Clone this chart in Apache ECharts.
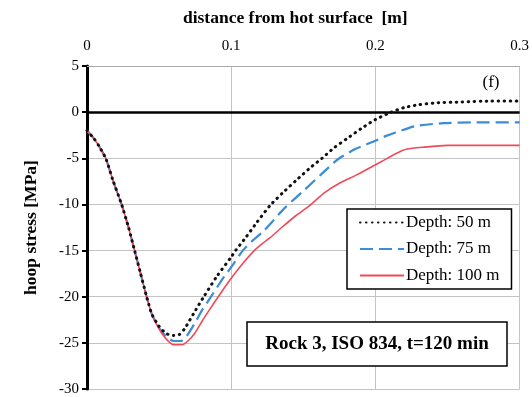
<!DOCTYPE html>
<html>
<head>
<meta charset="utf-8">
<script src="https://cdn.jsdelivr.net/npm/echarts@6/dist/echarts.min.js"></script>
<style>
  html, body { margin: 0; padding: 0; background: #fff; }
  #chart { width: 532px; height: 397px; }
</style>
</head>
<body>
<div id="chart"></div>
<script>
// distance from hot surface [m] and hoop stress [MPa]
const xTicks = [0, 0.1, 0.2, 0.3];
const yTicks = [-30, -25, -20, -15, -10, -5, 0, 5];

const dist50 = [0, 0.005, 0.008, 0.013, 0.018, 0.024, 0.029, 0.033, 0.037, 0.041, 0.045, 0.050, 0.055, 0.060, 0.064, 0.068, 0.074, 0.081, 0.090, 0.100, 0.103, 0.110, 0.118, 0.127, 0.136, 0.145, 0.155, 0.163, 0.171, 0.180, 0.190, 0.200, 0.211, 0.220, 0.230, 0.242, 0.260, 0.280, 0.300];
const stress50 = [-2.0, -2.9, -3.6, -5.0, -7.4, -10.0, -12.6, -15.0, -17.4, -19.8, -21.9, -23.2, -24.0, -24.2, -24.1, -23.4, -21.8, -20.0, -17.8, -15.7, -15.0, -13.6, -11.9, -10.1, -8.7, -7.4, -6.0, -5.0, -3.9, -2.9, -1.8, -0.8, 0.0, 0.5, 0.8, 1.0, 1.1, 1.2, 1.2];

const dist75 = [0, 0.005, 0.008, 0.013, 0.018, 0.024, 0.029, 0.033, 0.037, 0.041, 0.045, 0.050, 0.055, 0.060, 0.065, 0.069, 0.075, 0.080, 0.086, 0.093, 0.100, 0.108, 0.115, 0.123, 0.137, 0.151, 0.162, 0.171, 0.175, 0.186, 0.200, 0.207, 0.214, 0.228, 0.247, 0.270, 0.300];
const stress75 = [-2.0, -2.9, -3.6, -5.0, -7.4, -10.0, -12.6, -15.0, -17.4, -19.8, -21.9, -23.4, -24.3, -24.8, -24.8, -24.3, -22.8, -21.4, -20.0, -18.3, -16.8, -15.0, -13.9, -12.8, -10.4, -8.4, -6.8, -5.5, -5.0, -4.0, -3.1, -2.6, -2.2, -1.5, -1.2, -1.1, -1.1];

const dist100 = [0, 0.005, 0.008, 0.013, 0.018, 0.024, 0.029, 0.033, 0.037, 0.041, 0.045, 0.050, 0.055, 0.060, 0.066, 0.070, 0.075, 0.080, 0.085, 0.091, 0.100, 0.108, 0.116, 0.122, 0.127, 0.135, 0.145, 0.153, 0.165, 0.175, 0.187, 0.200, 0.206, 0.214, 0.222, 0.233, 0.250, 0.300];
const stress100 = [-2.0, -2.9, -3.6, -5.0, -7.4, -10.0, -12.6, -15.0, -17.4, -19.8, -21.9, -23.5, -24.6, -25.2, -25.2, -24.8, -23.9, -22.6, -21.4, -20.0, -18.0, -16.4, -15.0, -14.2, -13.6, -12.5, -11.2, -10.3, -8.7, -7.7, -6.8, -5.7, -5.2, -4.5, -4.0, -3.8, -3.6, -3.6];

const seriesNames = ["Depth: 50 m", "Depth: 75 m", "Depth: 100 m"];

const zip = (xs, ys) => xs.map((x, i) => [x, ys[i]]);

const serif = "'Liberation Serif', 'DejaVu Serif', serif";

const chart = echarts.init(document.getElementById("chart"));

chart.setOption({
  backgroundColor: "#fff",
  animation: false,
  grid: { left: 87, right: 7, top: 66, bottom: 8 },
  xAxis: {
    type: "value",
    position: "top",
    min: 0,
    max: 0.3,
    interval: 0.1,
    name: "distance from hot surface  [m]",
    nameLocation: "middle",
    nameGap: 39,
    nameTextStyle: { fontFamily: serif, fontWeight: "bold", fontSize: 17.5, color: "#000", padding: [0, 16, 0, 0] },
    axisLine: { show: true, onZero: false, lineStyle: { color: "#aaa", width: 1 } },
    axisTick: { show: false },
    axisLabel: { fontFamily: serif, fontSize: 15, color: "#000", margin: 12,
      formatter: (v) => (xTicks.includes(Math.round(v * 10) / 10) ? String(Math.round(v * 10) / 10) : "") },
    splitLine: { show: true, lineStyle: { color: "#c4c4c4", width: 1 } }
  },
  yAxis: {
    type: "value",
    min: -30,
    max: 5,
    interval: 5,
    name: "hoop stress [MPa]",
    nameLocation: "middle",
    nameGap: 47,
    nameTextStyle: { fontFamily: serif, fontWeight: "bold", fontSize: 17.5, color: "#000" },
    axisLine: { show: true, lineStyle: { color: "#000", width: 3 } },
    axisTick: { show: true, inside: false, length: 5, lineStyle: { color: "#000", width: 2 } },
    axisLabel: { fontFamily: serif, fontSize: 15, color: "#000", margin: 8,
      formatter: (v) => (yTicks.includes(v) ? String(v) : "") },
    splitLine: { show: true, lineStyle: { color: "#c4c4c4", width: 1 } }
  },
  legend: {
    orient: "vertical",
    left: 347,
    top: 209,
    padding: [5, 12, 5, 12],
    itemWidth: 44,
    itemHeight: 14,
    itemGap: 9.5,
    borderColor: "#000",
    borderWidth: 1.5,
    backgroundColor: "#fff",
    itemStyle: { opacity: 0 },
    textStyle: { fontFamily: serif, fontSize: 17, color: "#000", padding: [0, 0, 0, -3] },
    data: seriesNames
  },
  graphic: [
    {
      type: "rect",
      shape: { x: 247, y: 322, width: 260, height: 44 },
      style: { fill: "#fff", stroke: "#000", lineWidth: 1.5 },
      z: 100
    },
    {
      type: "text",
      x: 377,
      y: 344,
      style: { text: "Rock 3, ISO 834, t=120 min", font: "bold 19px " + serif, fill: "#000", textAlign: "center", textVerticalAlign: "middle" },
      z: 101
    },
    {
      type: "text",
      x: 491,
      y: 83,
      style: { text: "(f)", font: "17px " + serif, fill: "#000", textAlign: "center", textVerticalAlign: "middle" },
      z: 101
    }
  ],
  series: [
    {
      name: seriesNames[0],
      type: "line",
      symbol: "none",
      smooth: 0.2,
      data: zip(dist50, stress50),
      lineStyle: { color: "#111", width: 3, type: [0.5, 5.5], cap: "round" },
      itemStyle: { color: "#111" },
      z: 5,
      markLine: {
        silent: true,
        symbol: "none",
        label: { show: false },
        lineStyle: { color: "#000", width: 2.5, type: "solid" },
        data: [{ yAxis: 0 }]
      }
    },
    {
      name: seriesNames[1],
      type: "line",
      symbol: "none",
      smooth: 0.2,
      data: zip(dist75, stress75),
      lineStyle: { color: "#3a8dd6", width: 2.2, type: [13, 6] },
      itemStyle: { color: "#3a8dd6" },
      z: 3
    },
    {
      name: seriesNames[2],
      type: "line",
      symbol: "none",
      smooth: 0.2,
      data: zip(dist100, stress100),
      lineStyle: { color: "#ef4a58", width: 1.6 },
      itemStyle: { color: "#ef4a58" },
      z: 4
    }
  ]
});
</script>
</body>
</html>
